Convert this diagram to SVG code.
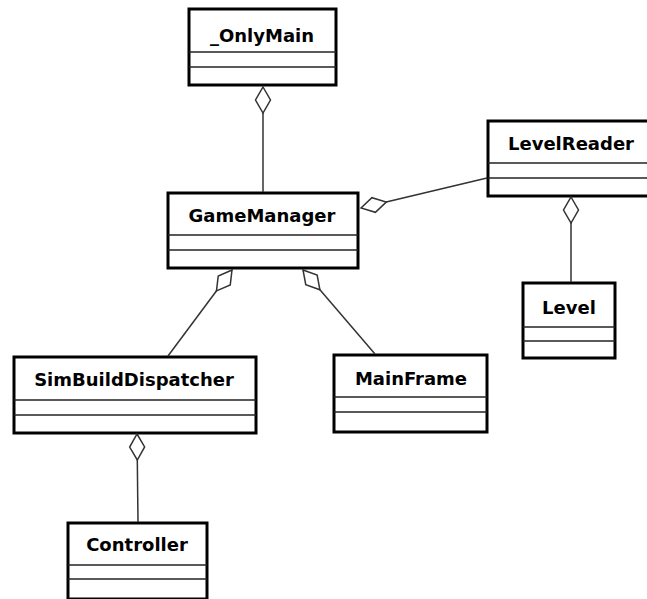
<svg xmlns="http://www.w3.org/2000/svg" width="647" height="599" viewBox="0 0 647 599">
  <style>
    .box { fill: #ffffff; stroke: #000000; stroke-width: 3; }
    .div { stroke: #222222; stroke-width: 1.5; }
    .lbl { font-family: "DejaVu Sans", "Liberation Sans", sans-serif; font-weight: bold; font-size: 18px; fill: #000000; text-anchor: middle; }
    .conn { stroke: #333333; stroke-width: 1.5; fill: none; marker-start: url(#agg); }
  </style>
  <defs>
    <marker id="agg" viewBox="-1 -9 29 18" markerWidth="29" markerHeight="18" refX="0" refY="0" orient="auto" markerUnits="userSpaceOnUse" overflow="visible">
      <path d="M0,0 L13,-7.5 L26,0 L13,7.5 Z" fill="#ffffff" stroke="#333333" stroke-width="1.5"/>
    </marker>
  </defs>
  <rect width="647" height="599" fill="#ffffff"/>

  <g id="OnlyMain">
    <rect class="box" x="189" y="9" width="147" height="76"/>
    <line class="div" x1="189" y1="52" x2="336" y2="52"/>
    <line class="div" x1="189" y1="67" x2="336" y2="67"/>
    <text class="lbl" x="262" y="42">_OnlyMain</text>
  </g>
  <g id="GameManager">
    <rect class="box" x="168" y="193" width="190" height="75"/>
    <line class="div" x1="168" y1="235" x2="358" y2="235"/>
    <line class="div" x1="168" y1="250" x2="358" y2="250"/>
    <text class="lbl" x="262" y="222">GameManager</text>
  </g>
  <g id="LevelReader">
    <rect class="box" x="488" y="121" width="170" height="75"/>
    <line class="div" x1="488" y1="163" x2="658" y2="163"/>
    <line class="div" x1="488" y1="178" x2="658" y2="178"/>
    <text class="lbl" x="571" y="150">LevelReader</text>
  </g>
  <g id="Level">
    <rect class="box" x="523" y="283" width="92" height="75"/>
    <line class="div" x1="523" y1="327" x2="615" y2="327"/>
    <line class="div" x1="523" y1="341" x2="615" y2="341"/>
    <text class="lbl" x="569" y="314">Level</text>
  </g>
  <g id="SimBuildDispatcher">
    <rect class="box" x="14" y="357" width="242" height="76"/>
    <line class="div" x1="14" y1="400" x2="256" y2="400"/>
    <line class="div" x1="14" y1="415" x2="256" y2="415"/>
    <text class="lbl" x="134" y="386">SimBuildDispatcher</text>
  </g>
  <g id="MainFrame">
    <rect class="box" x="334" y="355" width="153" height="77"/>
    <line class="div" x1="334" y1="397" x2="487" y2="397"/>
    <line class="div" x1="334" y1="412" x2="487" y2="412"/>
    <text class="lbl" x="411" y="385">MainFrame</text>
  </g>
  <g id="Controller">
    <rect class="box" x="68" y="523" width="139" height="76"/>
    <line class="div" x1="68" y1="565" x2="207" y2="565"/>
    <line class="div" x1="68" y1="579" x2="207" y2="579"/>
    <text class="lbl" x="137" y="551">Controller</text>
  </g>

  <g id="connectors">
    <path class="conn" d="M263,87 L263,192"/>
    <path class="conn" d="M232,270 L168,356"/>
    <path class="conn" d="M303,270 L375,354"/>
    <path class="conn" d="M361,208 L487,178"/>
    <path class="conn" d="M571,197 L571,282"/>
    <path class="conn" d="M137,434 L138,522"/>
  </g>
</svg>
